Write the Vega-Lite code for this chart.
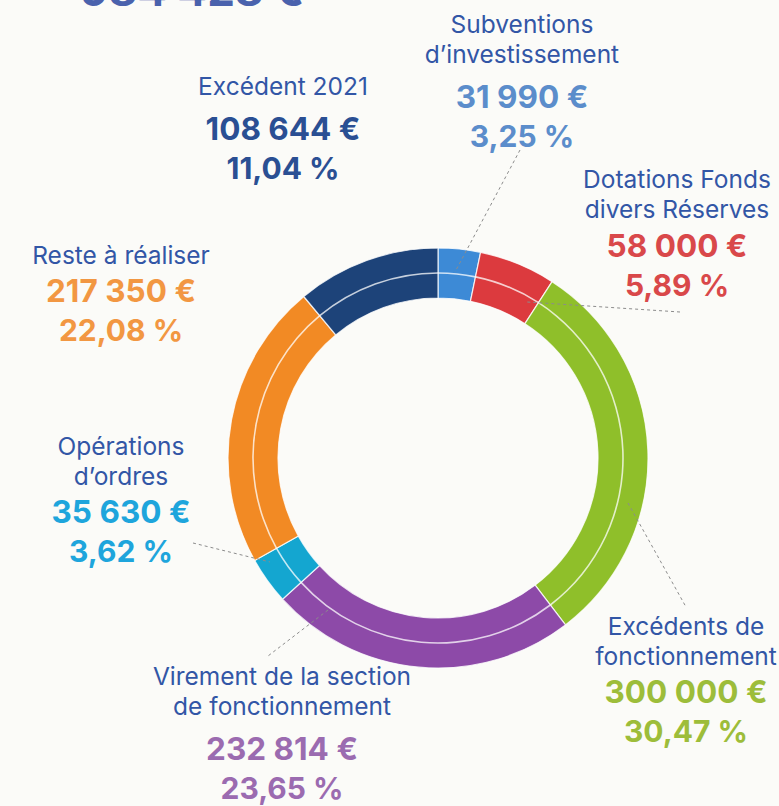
{
  "$schema": "https://vega.github.io/schema/vega-lite/v6.json",
  "width": 779,
  "height": 806,
  "autosize": {"type": "none"},
  "padding": 0,
  "background": "#fbfbf8",
  "config": {"view": {"stroke": null}, "font": "Inter"},
  "datasets": {
    "seg": [
      {"ord": 1, "name": "Subventions d’investissement", "value": 31990, "amount": "31 990 €", "pct": "3,25 %", "name1": "Subventions", "name2": "d’investissement", "lx": 84, "ny": 395, "vy": 350},
      {"ord": 2, "name": "Dotations Fonds divers Réserves", "value": 58000, "amount": "58 000 €", "pct": "5,89 %", "name1": "Dotations Fonds", "name2": "divers Réserves", "lx": 239, "ny": 240, "vy": 201},
      {"ord": 3, "name": "Excédents de fonctionnement", "value": 300000, "amount": "300 000 €", "pct": "30,47 %", "name1": "Excédents  de", "name2": "fonctionnement", "lx": 248, "ny": -207, "vy": -245},
      {"ord": 4, "name": "Virement de la section de fonctionnement", "value": 232814, "amount": "232 814 €", "pct": "23,65 %", "name1": "Virement de la section", "name2": "de fonctionnement", "lx": -156, "ny": -257, "vy": -302},
      {"ord": 5, "name": "Opérations d’ordres", "value": 35630, "amount": "35 630 €", "pct": "3,62 %", "name1": "Opérations", "name2": "d’ordres", "lx": -317, "ny": -27, "vy": -65},
      {"ord": 6, "name": "Reste à réaliser", "value": 217350, "amount": "217 350 €", "pct": "22,08 %", "name1": "", "name2": "Reste à réaliser", "lx": -317, "ny": 194, "vy": 156},
      {"ord": 7, "name": "Excédent 2021", "value": 108644, "amount": "108 644 €", "pct": "11,04 %", "name1": "", "name2": "Excédent 2021", "lx": -155, "ny": 363, "vy": 318}
    ],
    "leaders": [
      {"x": 82, "y": 308, "x2": 17, "y2": 186},
      {"x": 242, "y": 146, "x2": 89, "y2": 156},
      {"x": 190, "y": -45, "x2": 248, "y2": -149},
      {"x": -110, "y": -152, "x2": -170, "y2": -198},
      {"x": -245, "y": -85, "x2": -168, "y2": -104}
    ],
    "total": [{"text": "984 428 €", "x": -246, "y": 452}]
  },
  "layer": [
    {
      "data": {"name": "seg"},
      "mark": {"type": "arc", "radius": 210, "radius2": 160, "stroke": "#ffffff", "strokeWidth": 1.2, "strokeOpacity": 0.8},
      "encoding": {
        "theta": {"field": "value", "type": "quantitative", "stack": true},
        "order": {"field": "ord", "type": "quantitative"},
        "color": {"field": "name", "type": "nominal", "legend": null,
          "scale": {"domain": ["Subventions d’investissement", "Dotations Fonds divers Réserves", "Excédents de fonctionnement", "Virement de la section de fonctionnement", "Opérations d’ordres", "Reste à réaliser", "Excédent 2021"],
                    "range": ["#3d8ad6", "#dc3a3e", "#8fbf2a", "#8d4aa8", "#14a6d0", "#f28a24", "#1d4379"]}},
        "x": {"datum": 0, "type": "quantitative", "scale": {"domain": [-438, 341], "nice": false, "zero": false}, "axis": null},
        "y": {"datum": 0, "type": "quantitative", "scale": {"domain": [-348, 458], "nice": false, "zero": false}, "axis": null}
      }
    },
    {
      "data": {"name": "seg"},
      "mark": {"type": "arc", "radius": 185.8, "radius2": 184.2, "color": "#ffffff", "opacity": 0.75},
      "encoding": {
        "theta": {"field": "value", "type": "quantitative", "stack": true},
        "order": {"field": "ord", "type": "quantitative"},
        "x": {"datum": 0, "type": "quantitative", "scale": {"domain": [-438, 341], "nice": false, "zero": false}, "axis": null},
        "y": {"datum": 0, "type": "quantitative", "scale": {"domain": [-348, 458], "nice": false, "zero": false}, "axis": null}
      }
    },
    {
      "data": {"name": "leaders"},
      "mark": {"type": "rule", "color": "#8c8c8c", "strokeWidth": 1, "strokeDash": [3, 3]},
      "encoding": {
        "x": {"field": "x", "type": "quantitative", "scale": {"domain": [-438, 341], "nice": false, "zero": false}, "axis": null},
        "y": {"field": "y", "type": "quantitative", "scale": {"domain": [-348, 458], "nice": false, "zero": false}, "axis": null},
        "x2": {"field": "x2"},
        "y2": {"field": "y2"}
      }
    },
    {
      "data": {"name": "total"},
      "mark": {"type": "text", "font": "Inter", "fontWeight": 700, "fontSize": 44, "color": "#4a62ad", "align": "center", "baseline": "alphabetic"},
      "encoding": {
        "text": {"field": "text"},
        "x": {"field": "x", "type": "quantitative", "scale": {"domain": [-438, 341], "nice": false, "zero": false}, "axis": null},
        "y": {"field": "y", "type": "quantitative", "scale": {"domain": [-348, 458], "nice": false, "zero": false}, "axis": null}
      }
    },
    {
      "data": {"name": "seg"},
      "mark": {"type": "text", "font": "Inter", "fontWeight": 400, "fontSize": 24.5, "color": "#3256a6", "align": "center", "baseline": "alphabetic", "dy": -30},
      "encoding": {
        "text": {"field": "name1"},
        "x": {"field": "lx", "type": "quantitative", "scale": {"domain": [-438, 341], "nice": false, "zero": false}, "axis": null},
        "y": {"field": "ny", "type": "quantitative", "scale": {"domain": [-348, 458], "nice": false, "zero": false}, "axis": null}
      }
    },
    {
      "data": {"name": "seg"},
      "mark": {"type": "text", "font": "Inter", "fontWeight": 400, "fontSize": 24.5, "color": "#3256a6", "align": "center", "baseline": "alphabetic"},
      "encoding": {
        "text": {"field": "name2"},
        "x": {"field": "lx", "type": "quantitative", "scale": {"domain": [-438, 341], "nice": false, "zero": false}, "axis": null},
        "y": {"field": "ny", "type": "quantitative", "scale": {"domain": [-348, 458], "nice": false, "zero": false}, "axis": null}
      }
    },
    {
      "data": {"name": "seg"},
      "mark": {"type": "text", "font": "Inter", "fontWeight": 700, "fontSize": 31.5, "align": "center", "baseline": "alphabetic"},
      "encoding": {
        "text": {"field": "amount"},
        "color": {"field": "name", "type": "nominal", "legend": null,
          "scale": {"domain": ["Subventions d’investissement", "Dotations Fonds divers Réserves", "Excédents de fonctionnement", "Virement de la section de fonctionnement", "Opérations d’ordres", "Reste à réaliser", "Excédent 2021"],
                    "range": ["#5b8dcb", "#d9484a", "#9dbd3a", "#9b6bb0", "#1ea5dc", "#f29742", "#2a4f93"]}},
        "x": {"field": "lx", "type": "quantitative", "scale": {"domain": [-438, 341], "nice": false, "zero": false}, "axis": null},
        "y": {"field": "vy", "type": "quantitative", "scale": {"domain": [-348, 458], "nice": false, "zero": false}, "axis": null}
      }
    },
    {
      "data": {"name": "seg"},
      "mark": {"type": "text", "font": "Inter", "fontWeight": 700, "fontSize": 30, "align": "center", "baseline": "alphabetic", "dy": 39},
      "encoding": {
        "text": {"field": "pct"},
        "color": {"field": "name", "type": "nominal", "legend": null,
          "scale": {"domain": ["Subventions d’investissement", "Dotations Fonds divers Réserves", "Excédents de fonctionnement", "Virement de la section de fonctionnement", "Opérations d’ordres", "Reste à réaliser", "Excédent 2021"],
                    "range": ["#5b8dcb", "#d9484a", "#9dbd3a", "#9b6bb0", "#1ea5dc", "#f29742", "#2a4f93"]}},
        "x": {"field": "lx", "type": "quantitative", "scale": {"domain": [-438, 341], "nice": false, "zero": false}, "axis": null},
        "y": {"field": "vy", "type": "quantitative", "scale": {"domain": [-348, 458], "nice": false, "zero": false}, "axis": null}
      }
    }
  ],
  "resolve": {"scale": {"color": "independent"}}
}
